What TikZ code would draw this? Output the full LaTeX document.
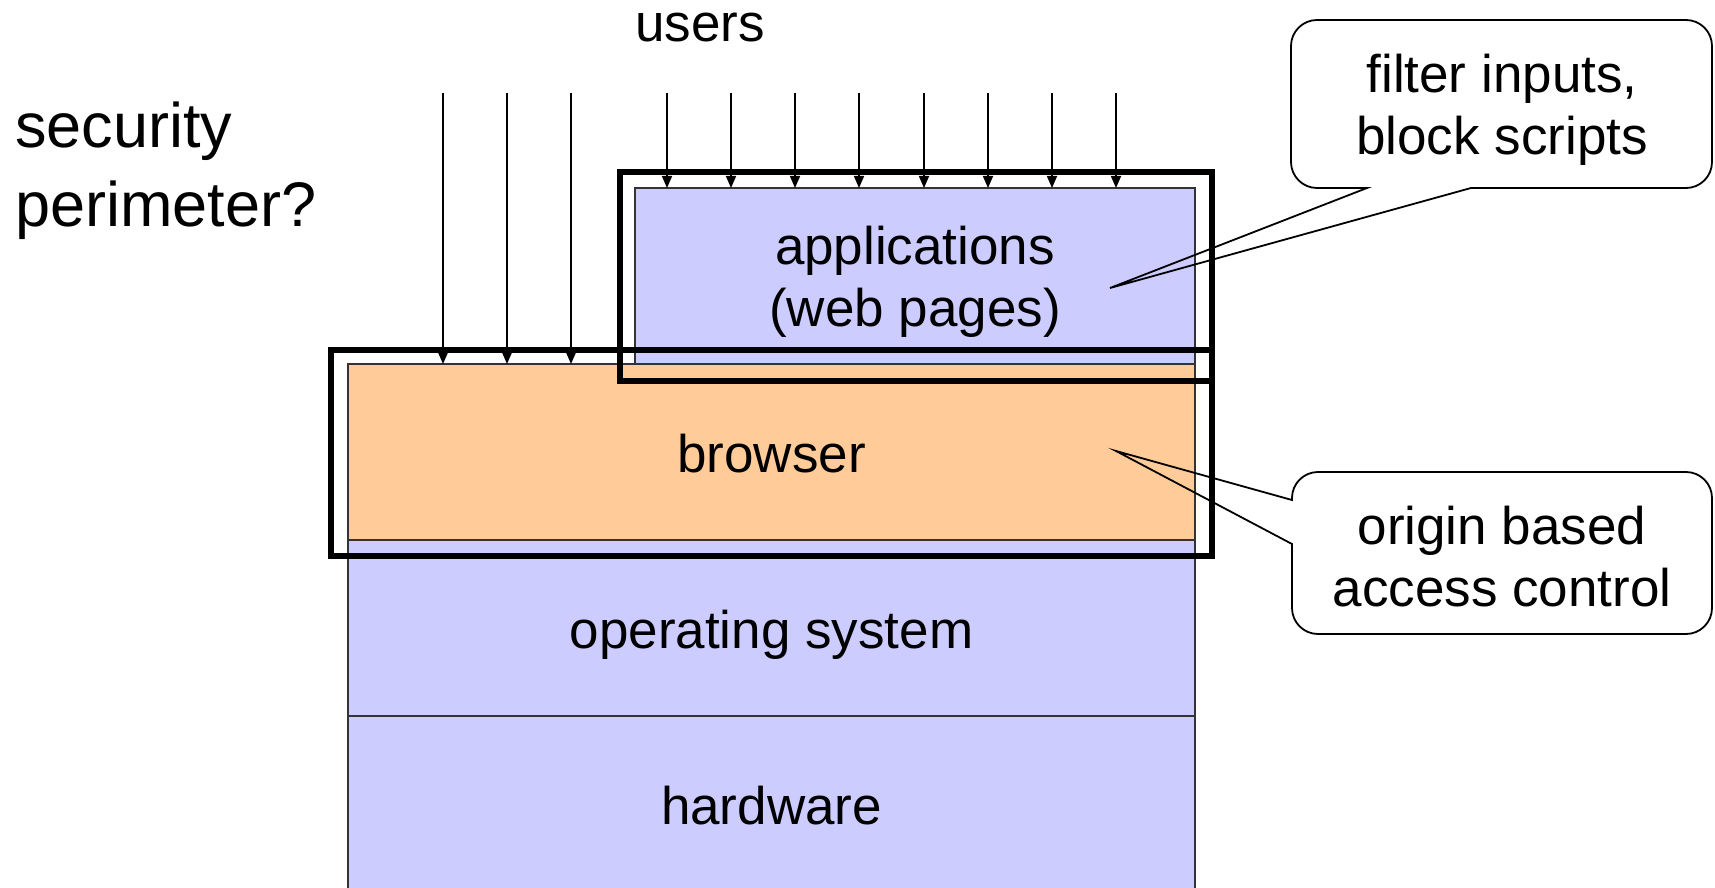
\documentclass[tikz,border=0pt]{standalone}
\usepackage{fontspec}
\setmainfont{Liberation Sans}
\usetikzlibrary{arrows.meta,positioning}
\definecolor{lavender}{RGB}{204,204,255}
\definecolor{peach}{RGB}{255,204,153}
\tikzset{
  layerbox/.style={draw=black!80, line width=0.6pt, inner sep=0pt, outer sep=0pt, minimum width=423.5pt, minimum height=88pt, text height=23.85pt, text depth=3.85pt, font=\fontsize{26.5}{32}\selectfont},
  perim/.style={line width=3.3pt},
  userarrow/.style={line width=0.8pt, -{Triangle[length=6pt,width=5pt]}},
  callout/.style={line width=0.9pt, rounded corners=13pt},
  txt/.style={align=center, inner sep=0pt, font=\fontsize{26.5}{31}\selectfont}
}
\begin{document}
\begin{tikzpicture}[x=0.5pt,y=-0.5pt]
\useasboundingbox (0,0) rectangle (1715,888);
\node[layerbox, fill=lavender, minimum height=91pt, text depth=6.85pt] (hw) at (771.5,807) {hardware};
\node[layerbox, fill=lavender] (os) at (771.5,628) {operating system};
\node[layerbox, fill=peach] (br) at (771.5,452) {browser};
\node[layerbox, fill=lavender, minimum width=280pt] (app) at (915,276) {};
\node[txt] (apptxt) at ([yshift=-3pt]app.center) {applications\\(web pages)};
\draw[perim] (331,350) rectangle (1212,556);
\draw[perim] (620,172) rectangle (1212,381);
\foreach \x [count=\i] in {443,507,571} {
  \coordinate (b\i) at (\x,93);
  \draw[userarrow] (b\i) -- (b\i |- br.north);
}
\foreach \x [count=\i] in {667,731,795,859,924,988,1052,1116} {
  \coordinate (a\i) at (\x,93);
  \draw[userarrow] (a\i) -- (a\i |- app.north);
}
\node[txt] (users) at (700,28) {users};
\node[txt, align=left, anchor=west, font=\fontsize{31.5}{39.5}\selectfont] (perimq) at (15,171) {security\\perimeter?};
\node[txt] (filt) at (1502,110) {filter inputs,\\block scripts};
\node[txt] (orig) at (1502,557) {origin based\\access control};
\coordinate (filttip) at (1110,288);
\coordinate (origtip) at (1116,451);
\draw[callout] (1291,100) -- (1291,188) [sharp corners] -- (1367,188) -- (filttip) -- (1471,188) [rounded corners=13pt] -- (1712,188) -- (1712,20) -- (1291,20) -- cycle;
\draw[callout] (1500,634) -- (1292,634) [sharp corners] -- (1292,544) -- (origtip) -- (1292,500) [rounded corners=13pt] -- (1292,472) -- (1712,472) -- (1712,634) -- cycle;
\end{tikzpicture}
\end{document}
